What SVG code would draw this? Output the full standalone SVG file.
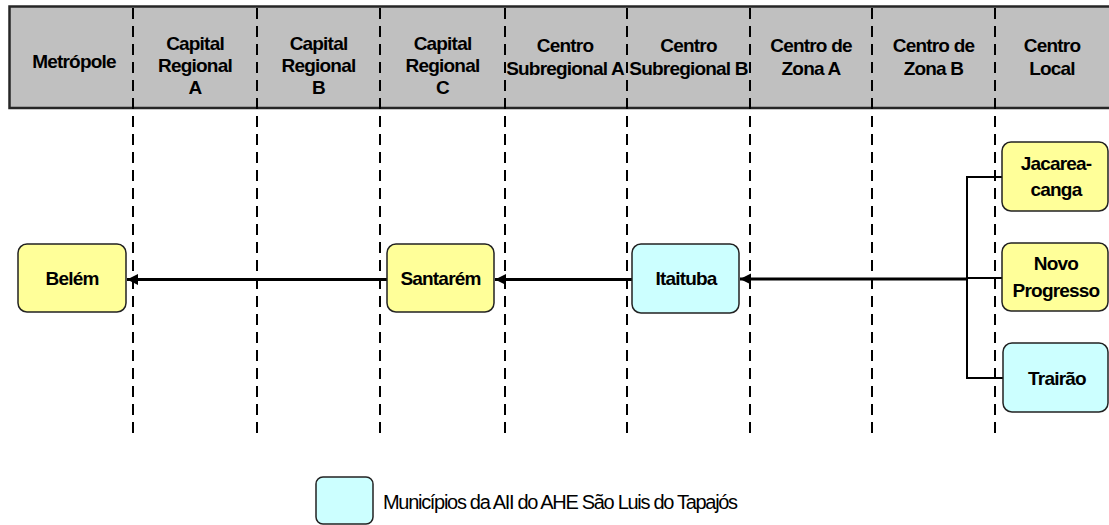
<svg xmlns="http://www.w3.org/2000/svg" width="1109" height="525" viewBox="0 0 1109 525">
<style>
.h{font-family:"Liberation Sans",Arial,sans-serif;font-weight:bold;font-size:19px;letter-spacing:-0.8px;fill:#000;text-anchor:middle}
.n{font-family:"Liberation Sans",Arial,sans-serif;font-weight:bold;font-size:19px;letter-spacing:-0.8px;fill:#000;text-anchor:middle}
.lg{font-family:"Liberation Sans",Arial,sans-serif;font-size:20px;letter-spacing:-1.3px;fill:#000}
.dash{stroke:#000;stroke-width:2;stroke-dasharray:11 7;fill:none}
.y{fill:#FFFF99;stroke:#222;stroke-width:1.5}
.c{fill:#CCFFFF;stroke:#222;stroke-width:1.5}
.ar{stroke:#000;stroke-width:3;fill:none}
.br{stroke:#000;stroke-width:2;fill:none}
</style>
<defs>
<marker id="ah" markerWidth="12" markerHeight="12" refX="11" refY="6" orient="auto" markerUnits="userSpaceOnUse">
<path d="M0,0.5 L11,6 L0,11.5 Z" fill="#000"/>
</marker>
</defs>
<rect width="1109" height="525" fill="#fff"/>
<g id="header">
<rect x="9.5" y="6.5" width="1110" height="101.5" fill="#C0C0C0" stroke="#262626" stroke-width="2.5"/>
<text class="h" x="74" y="68">Metrópole</text>
<text class="h" x="195" y="50">Capital</text>
<text class="h" x="195" y="72">Regional</text>
<text class="h" x="195" y="94">A</text>
<text class="h" x="318.5" y="50">Capital</text>
<text class="h" x="318.5" y="72">Regional</text>
<text class="h" x="318.5" y="94">B</text>
<text class="h" x="442.5" y="50">Capital</text>
<text class="h" x="442.5" y="72">Regional</text>
<text class="h" x="442.5" y="94">C</text>
<text class="h" x="565" y="52">Centro</text>
<text class="h" x="565" y="75">Subregional A</text>
<text class="h" x="688.5" y="52">Centro</text>
<text class="h" x="688.5" y="75">Subregional B</text>
<text class="h" x="811" y="52">Centro de</text>
<text class="h" x="811" y="75">Zona A</text>
<text class="h" x="933.5" y="52">Centro de</text>
<text class="h" x="933.5" y="75">Zona B</text>
<text class="h" x="1052" y="52">Centro</text>
<text class="h" x="1052" y="75">Local</text>
</g>
<g id="gridlines">
<line class="dash" x1="133" y1="8" x2="133" y2="438"/>
<line class="dash" x1="257" y1="8" x2="257" y2="438"/>
<line class="dash" x1="380" y1="8" x2="380" y2="438"/>
<line class="dash" x1="505" y1="8" x2="505" y2="438"/>
<line class="dash" x1="627" y1="8" x2="627" y2="438"/>
<line class="dash" x1="750" y1="8" x2="750" y2="438"/>
<line class="dash" x1="872" y1="8" x2="872" y2="438"/>
<line class="dash" x1="995" y1="8" x2="995" y2="438"/>
</g>
<g id="connectors">
<line class="ar" x1="387" y1="279.5" x2="127" y2="279.5" marker-end="url(#ah)"/>
<line class="ar" x1="632" y1="279.5" x2="495" y2="279.5" marker-end="url(#ah)"/>
<line class="ar" x1="967" y1="279" x2="740" y2="279" marker-end="url(#ah)"/>
<polyline class="br" points="1002,177 967,177 967,378 1003,378"/>
<line class="br" x1="967" y1="278" x2="1002" y2="278"/>
</g>
<g id="belem">
<rect class="y" x="18" y="244" width="108" height="68" rx="9"/>
<text class="n" x="72" y="285">Belém</text>
</g>
<g id="santarem">
<rect class="y" x="387" y="244" width="107" height="68" rx="9"/>
<text class="n" x="440.5" y="285">Santarém</text>
</g>
<g id="itaituba">
<rect class="c" x="632" y="244" width="107" height="69" rx="9"/>
<text class="n" x="686" y="285">Itaituba</text>
</g>
<g id="jacareacanga">
<rect class="y" x="1002" y="142" width="106" height="69" rx="9"/>
<text class="n" x="1056" y="170">Jacarea-</text>
<text class="n" x="1056" y="196">canga</text>
</g>
<g id="novoprogresso">
<rect class="y" x="1002" y="243" width="106" height="68" rx="9"/>
<text class="n" x="1056" y="270">Novo</text>
<text class="n" x="1056" y="297">Progresso</text>
</g>
<g id="trairao">
<rect class="c" x="1003" y="343" width="105" height="69" rx="9"/>
<text class="n" x="1057" y="385">Trairão</text>
</g>
<g id="legend">
<rect class="c" x="316" y="477" width="57" height="47" rx="7"/>
<text class="lg" x="383" y="509">Municípios da AII do AHE São Luis do Tapajós</text>
</g>
</svg>
